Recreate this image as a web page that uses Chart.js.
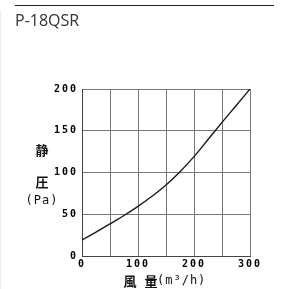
<!DOCTYPE html>
<html>
<head>
<meta charset="utf-8">
<script src="https://cdn.jsdelivr.net/npm/chart.js@4.4.1/dist/chart.umd.min.js"></script>
<style>
  html, body { margin: 0; padding: 0; background: #fff; }
  #myChart { position: absolute; left: 0; top: 0; z-index: 1; }
  #rule { position: absolute; left: 15px; top: 5px; width: 259px; height: 1px; background: #222; z-index: 5; }
  #title { position: absolute; left: 15px; top: 9px; font: 16px "Open Sans", "Noto Sans", sans-serif; color: #333; z-index: 5; }
</style>
</head>
<body>
<canvas id="myChart" width="281" height="289"></canvas>
<div id="rule"></div>
<div id="title">P-18QSR</div>
<script>
// airflow (m3/h) vs static pressure (Pa)
const airflow = [0, 25, 50, 75, 100, 125, 150, 175, 200, 225, 250, 275, 300];
const pressure = [19, 28.5, 38.5, 48.5, 59.5, 71.5, 85, 101, 119, 139.5, 160, 180, 200];
const xLabels = [0, 100, 200, 300];
const yLabels = [0, 50, 100, 150, 200];

const points = airflow.map((v, i) => ({ x: v, y: pressure[i] }));

const spacing = {
    id: 'spacing',
    beforeLayout(chart) { chart.ctx.letterSpacing = '2px'; },
    beforeDraw(chart) { chart.ctx.letterSpacing = '2px'; }
};

// page decoration + axis titles
const decor = {
    id: 'decor',
    afterDraw(chart) {
        const c = chart.ctx;
        const a = chart.chartArea;
        c.save();
        c.fillStyle = '#ececec';
        c.fillRect(0, 10, 1, 279);

        c.fillStyle = '#111';
        c.textAlign = 'center';
        c.textBaseline = 'middle';
        c.letterSpacing = '0px';
        c.font = 'bold 13px "Noto Sans CJK JP"';
        c.fillText('静', a.left - 40, a.top + 61);
        c.fillText('圧', a.left - 40, a.top + 93);
        c.fillText('風', a.left + 48, a.bottom + 25);
        c.fillText('量', a.left + 69, a.bottom + 25);
        c.font = '12px "DejaVu Sans Mono"';
        c.letterSpacing = '1px';
        c.fillText('(Pa)', a.left - 40, a.top + 112);
        c.textAlign = 'left';
        c.fillText('(m³/h)', a.left + 75, a.bottom + 25);
        c.restore();
    }
};

const ctx = document.getElementById('myChart').getContext('2d');

var graphData = {
    type: 'line',
    data: {
        datasets: [{
            data: points,
            borderColor: '#1a1a1a',
            borderWidth: 1.4,
            pointRadius: 0,
            tension: 0.4,
            fill: false
        }]
    },
    options: {
        responsive: false,
        animation: false,
        events: [],
        layout: { padding: { top: 89, right: 31, left: 0, bottom: 0 } },
        plugins: { legend: { display: false }, tooltip: { enabled: false } },
        scales: {
            x: {
                type: 'linear',
                min: 0,
                max: 300,
                afterFit: s => { s.height = 33; },
                ticks: {
                    stepSize: 50,
                    maxRotation: 0,
                    autoSkip: false,
                    padding: 2,
                    color: '#000',
                    font: { family: 'DejaVu Sans Mono', size: 10, weight: 'bold' },
                    callback: v => xLabels.includes(v) ? String(v) : ''
                },
                grid: { color: '#777', drawTicks: false },
                border: { color: '#444' }
            },
            y: {
                min: 0,
                max: 200,
                afterFit: s => { s.width = 82; },
                ticks: {
                    stepSize: 50,
                    padding: 4,
                    color: '#000',
                    font: { family: 'DejaVu Sans Mono', size: 10, weight: 'bold' },
                    callback: v => yLabels.includes(v) ? String(v) : ''
                },
                grid: { color: '#777', drawTicks: false },
                border: { color: '#444' }
            }
        }
    },
    plugins: [spacing, decor]
};

var myChart = new Chart(ctx, graphData);
</script>
</body>
</html>
